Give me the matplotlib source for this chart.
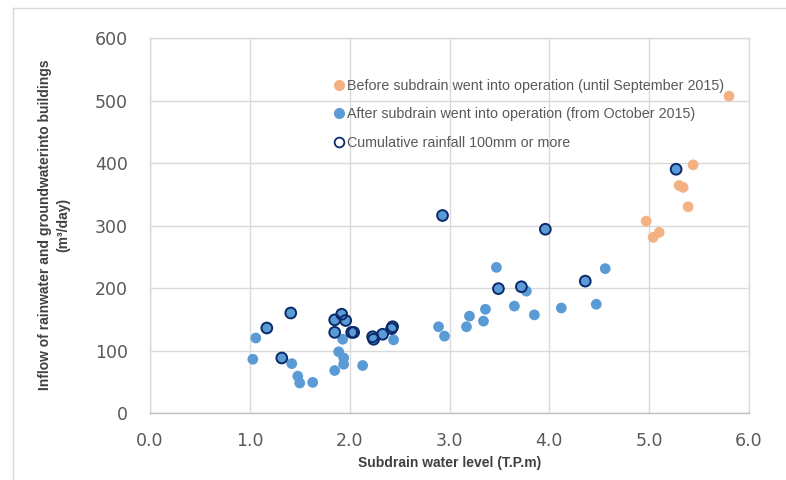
import matplotlib
matplotlib.use("Agg")
import matplotlib.pyplot as plt
from matplotlib.lines import Line2D

# ---- data ----
before_x = [4.97, 5.04, 5.10, 5.30, 5.34, 5.39, 5.44, 5.80]
before_y = [307, 281, 289, 364, 361, 330, 397, 507]

after_x = [1.03, 1.06, 1.17, 1.32, 1.41, 1.42, 1.48, 1.50, 1.63, 1.85, 1.85, 1.85,
           1.89, 1.92, 1.93, 1.94, 1.94, 1.96, 2.02, 2.04, 2.13, 2.23, 2.24, 2.33,
           2.42, 2.43, 2.44, 2.89, 2.93, 2.95, 3.17, 3.20, 3.34, 3.36, 3.47, 3.49,
           3.65, 3.72, 3.77, 3.85, 3.96, 4.12, 4.36, 4.47, 4.56, 5.27]
after_y = [86, 120, 136, 88, 160, 79, 59, 48, 49, 149, 129, 68,
           98, 158, 118, 88, 78, 148, 129, 129, 76, 122, 118, 126,
           135, 138, 117, 138, 316, 123, 138, 155, 147, 166, 233, 199,
           171, 202, 195, 157, 294, 168, 211, 174, 231, 390]

rain_x = [1.17, 1.32, 1.41, 1.85, 1.85, 1.92, 1.96, 2.02, 2.04, 2.23, 2.24, 2.33,
          2.42, 2.43, 2.93, 3.49, 3.72, 3.96, 4.36, 5.27]
rain_y = [136, 88, 160, 149, 129, 158, 148, 129, 129, 122, 118, 126,
          135, 138, 316, 199, 202, 294, 211, 390]

x_ticks = [0, 1, 2, 3, 4, 5, 6]
y_ticks = [0, 100, 200, 300, 400, 500, 600]

labels = ["Before subdrain went into operation (until September 2015)",
          "After subdrain went into operation (from October 2015)",
          "Cumulative rainfall 100mm or more"]
x_label = "Subdrain water level (T.P.m)"
y_label = "Inflow of rainwater and groundwaterinto buildings\n(m³/day)"

# ---- style ----
ORANGE = "#F4B183"
BLUE = "#5B9BD5"
NAVY = "#0A2A6B"
GRID = "#D9D9D9"
TXT = "#595959"
narrow = ["Liberation Sans Narrow", "Liberation Sans", "DejaVu Sans"]

fig = plt.figure(figsize=(7.86, 4.8), dpi=100)
ax = fig.add_axes([150/786, 1-413/480, 599/786, 375/480])

ax.scatter(before_x, before_y, s=60, color=ORANGE, edgecolors="none", zorder=3)
ax.scatter(after_x, after_y, s=60, color=BLUE, edgecolors="none", zorder=3)
ax.scatter(rain_x, rain_y, s=60, facecolors="none", edgecolors=NAVY, linewidths=1.4, zorder=4)

ax.set_xlim(0, 6)
ax.set_ylim(0, 600)
ax.set_xticks(x_ticks)
ax.set_yticks(y_ticks)
ax.set_xticklabels([f"{v:.1f}" for v in x_ticks])
ax.set_yticklabels([str(v) for v in y_ticks])
ax.tick_params(length=0, labelsize=12.5, labelcolor=TXT)
ax.tick_params(axis="x", pad=14)
ax.tick_params(axis="y", pad=16)
ax.grid(True, color=GRID, linewidth=1.0, zorder=0)
ax.set_axisbelow(True)
for s in ax.spines.values():
    s.set_color(GRID)
    s.set_linewidth(1.0)
ax.spines["bottom"].set_color("#BFBFBF")

handles = [
    Line2D([], [], marker="o", linestyle="none", markersize=8, markerfacecolor=ORANGE, markeredgecolor="none"),
    Line2D([], [], marker="o", linestyle="none", markersize=8, markerfacecolor=BLUE, markeredgecolor="none"),
    Line2D([], [], marker="o", linestyle="none", markersize=7, markerfacecolor="none", markeredgecolor=NAVY, markeredgewidth=1.3),
]
leg = ax.legend(handles, labels, loc="upper left", bbox_to_anchor=((335-150)/599, (413-79)/375),
                frameon=False, handlelength=0.6, handletextpad=0.25, labelspacing=1.0,
                borderaxespad=0, borderpad=0, prop={"family": narrow, "size": 10.3})
for t in leg.get_texts():
    t.set_color(TXT)

fig.text(450/786, 1-463/480, x_label, ha="center", va="center", fontsize=10,
         fontweight="bold", family=narrow, color="#404040")
fig.text(54/786, 1-225/480, y_label, ha="center", va="center", rotation=90, fontsize=10,
         fontweight="bold", family=narrow, color="#404040", linespacing=1.35)

fig.add_artist(Line2D([13/786, 13/786], [0, 1-8/480], color=GRID, linewidth=1.0))
fig.add_artist(Line2D([13/786, 1], [1-8/480, 1-8/480], color=GRID, linewidth=1.0))

fig.savefig("out.png", dpi=100)
